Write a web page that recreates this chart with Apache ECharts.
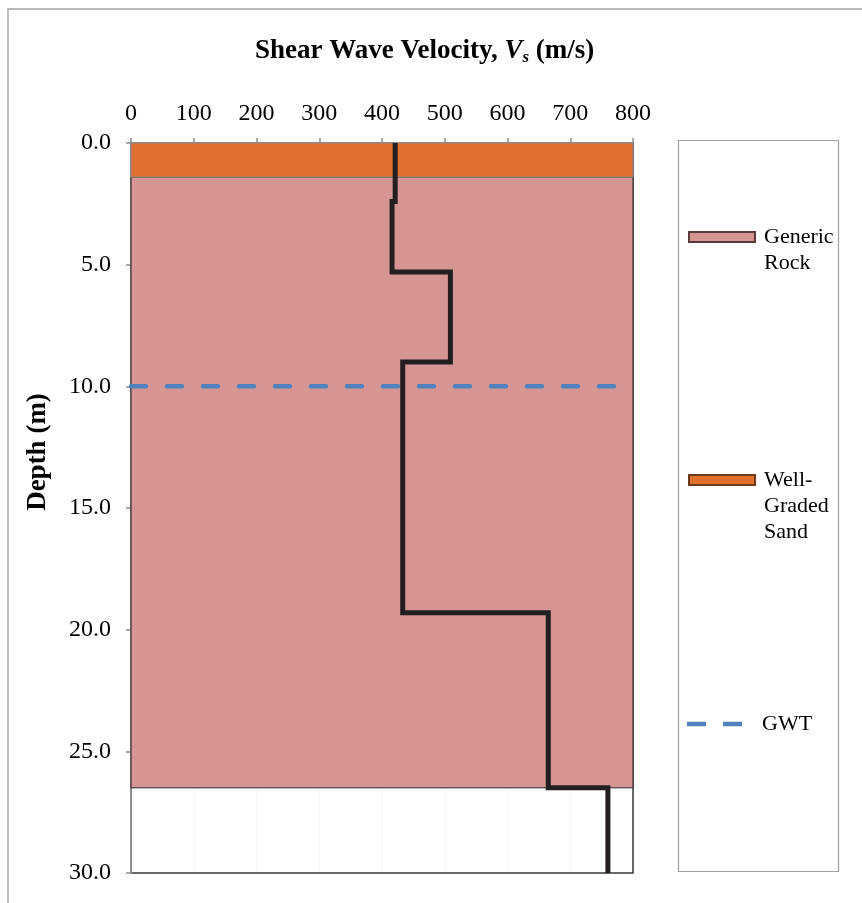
<!DOCTYPE html>
<html>
<head>
<meta charset="utf-8">
<script src="https://cdn.jsdelivr.net/npm/echarts@6/dist/echarts.min.js"></script>
<style>
  html, body { margin: 0; padding: 0; background: #ffffff; }
  #chart { width: 862px; height: 903px; }
</style>
</head>
<body>
<div id="chart"></div>
<script>
// Soil layers (depth, m)
const layerNames = ['Well-Graded Sand', 'Generic Rock'];
const layerTop = [0.0, 1.4];
const layerBottom = [1.4, 26.5];

// Shear wave velocity profile: constant Vs within each depth interval
const vsTop = [0.0, 2.4, 5.3, 9.0, 19.3, 26.5];
const vsBottom = [2.4, 5.3, 9.0, 19.3, 26.5, 30.0];
const vsValue = [421, 416, 509, 433, 665, 760];

// Ground water table
const gwtDepth = 10.0;
const gwtVs = [0, 780];

// Axis ticks
const xTicks = [0, 100, 200, 300, 400, 500, 600, 700, 800];
const yTicks = [0.0, 5.0, 10.0, 15.0, 20.0, 25.0, 30.0];

const serif = '"Liberation Serif", "Times New Roman", serif';
const layerFill = { 'Well-Graded Sand': '#e0702d', 'Generic Rock': '#d59593' };
const layerStroke = { 'Well-Graded Sand': '#8a8a8a', 'Generic Rock': '#2a2325' };
const legendBorder = { 'Well-Graded Sand': '#6b3a1e', 'Generic Rock': '#5a3a3a' };
const legendLabel = {
  'Generic Rock': '\nGeneric\nRock',
  'Well-Graded Sand': '\n\nWell-\nGraded\nSand',
  'GWT': 'GWT'
};

// Step profile vertices built from the layer table
const profile = [];
for (let i = 0; i < vsValue.length; i++) {
  profile.push([vsValue[i], vsTop[i]]);
  profile.push([vsValue[i], vsBottom[i]]);
}

const xMin = xTicks[0], xMax = xTicks[xTicks.length - 1];
const yMin = yTicks[0], yMax = yTicks[yTicks.length - 1];

function layerSeries(i) {
  const name = layerNames[i];
  return {
    name: name,
    type: 'custom',
    z: 1,
    itemStyle: { color: layerFill[name], borderColor: legendBorder[name], borderWidth: 1 },
    data: [[layerTop[i], layerBottom[i]]],
    renderItem: function (params, api) {
      const p0 = api.coord([xMin, api.value(0)]);
      const p1 = api.coord([xMax, api.value(1)]);
      return {
        type: 'rect',
        shape: { x: p0[0], y: p0[1], width: p1[0] - p0[0], height: p1[1] - p0[1] },
        style: { fill: layerFill[name], stroke: layerStroke[name], lineWidth: 1 }
      };
    }
  };
}

function legendFor(name, top, opts) {
  return Object.assign({
    show: true,
    data: [{ name: name, icon: 'rect' }],
    left: 688,
    top: top,
    orient: 'vertical',
    padding: 0,
    itemWidth: 66,
    itemHeight: 10,
    selectedMode: false,
    formatter: function (n) { return legendLabel[n]; },
    textStyle: { fontFamily: serif, fontSize: 22, color: '#000', lineHeight: 26, padding: [0, 0, 0, 4] }
  }, opts || {});
}

const chart = echarts.init(document.getElementById('chart'), null, { renderer: 'canvas' });

chart.setOption({
  backgroundColor: '#ffffff',
  animation: false,
  title: {
    left: 250,
    top: 32,
    text: '{b|Shear Wave Velocity, }{i|V}{s|s}{b| (m/s)}',
    textStyle: {
      rich: {
        b: { fontFamily: serif, fontWeight: 'bold', fontSize: 27, color: '#000' },
        i: { fontFamily: serif, fontWeight: 'bold', fontStyle: 'italic', fontSize: 27, color: '#000' },
        s: { fontFamily: serif, fontWeight: 'bold', fontStyle: 'italic', fontSize: 17, color: '#000', padding: [12, 0, 0, 0] }
      }
    }
  },
  grid: {
    left: 131, top: 143, width: 502, height: 730,
    show: true, borderColor: '#3a3a3a', borderWidth: 1.5, backgroundColor: 'transparent'
  },
  xAxis: {
    type: 'value',
    position: 'top',
    min: xMin, max: xMax, interval: 100,
    axisLine: { show: true, onZero: false, lineStyle: { color: '#8c8c8c', width: 2 } },
    axisTick: { show: true, inside: false, length: 5, lineStyle: { color: '#8c8c8c', width: 1.5 } },
    axisLabel: { fontFamily: serif, fontSize: 24, color: '#000', margin: 17 },
    splitLine: { show: true, lineStyle: { color: 'rgba(0,0,0,0.07)', type: 'dotted', width: 1 } }
  },
  yAxis: {
    type: 'value',
    inverse: true,
    min: yMin, max: yMax, interval: 5,
    axisLine: { show: true, onZero: false, lineStyle: { color: '#8c8c8c', width: 2 } },
    axisTick: { show: true, inside: false, length: 5, lineStyle: { color: '#8c8c8c', width: 1.5 } },
    axisLabel: { fontFamily: serif, fontSize: 24, color: '#000', margin: 20, formatter: v => v.toFixed(1) },
    splitLine: { show: true, lineStyle: { color: 'rgba(0,0,0,0.05)', type: 'dotted', width: 1 } }
  },
  legend: [
    legendFor('Generic Rock', 237 - 39),
    legendFor('Well-Graded Sand', 480 - 65),
    legendFor('GWT', 724 - 13, {
      data: [{ name: 'GWT', icon: 'path://M0,0 L19,0 L19,4.5 L0,4.5 Z M36,0 L55,0 L55,4.5 L36,4.5 Z' }],
      itemWidth: 55, itemHeight: 4.5, left: 687,
      textStyle: { fontFamily: serif, fontSize: 22, color: '#000', lineHeight: 26, padding: [0, 0, 0, 15] }
    })
  ],
  graphic: [
    {
      type: 'rect', silent: true, z: -10,
      shape: { x: 8, y: 9, width: 900, height: 920 },
      style: { fill: 'none', stroke: '#a6a6a6', lineWidth: 1.5 }
    },
    {
      type: 'rect', silent: true, z: -10,
      shape: { x: 678.5, y: 140.5, width: 160, height: 731 },
      style: { fill: '#ffffff', stroke: '#a0a0a0', lineWidth: 1.2 }
    },
    {
      type: 'text', silent: true,
      x: 38, y: 452, rotation: Math.PI / 2,
      style: {
        text: 'Depth (m)', fontFamily: serif, fontWeight: 'bold', fontSize: 27,
        fill: '#000', align: 'center', verticalAlign: 'middle'
      }
    }
  ],
  series: [
    layerSeries(1),
    layerSeries(0),
    {
      name: 'GWT',
      type: 'line',
      z: 3,
      symbol: 'none',
      data: gwtVs.map(v => [v, gwtDepth]),
      itemStyle: { color: '#4f81bd' },
      lineStyle: { color: '#4f81bd', width: 4.5, type: [15, 21], cap: 'round' }
    },
    {
      name: 'Vs',
      type: 'line',
      z: 4,
      symbol: 'none',
      data: profile,
      lineStyle: { color: '#231f20', width: 5, join: 'miter', cap: 'butt' }
    }
  ]
});
</script>
</body>
</html>
